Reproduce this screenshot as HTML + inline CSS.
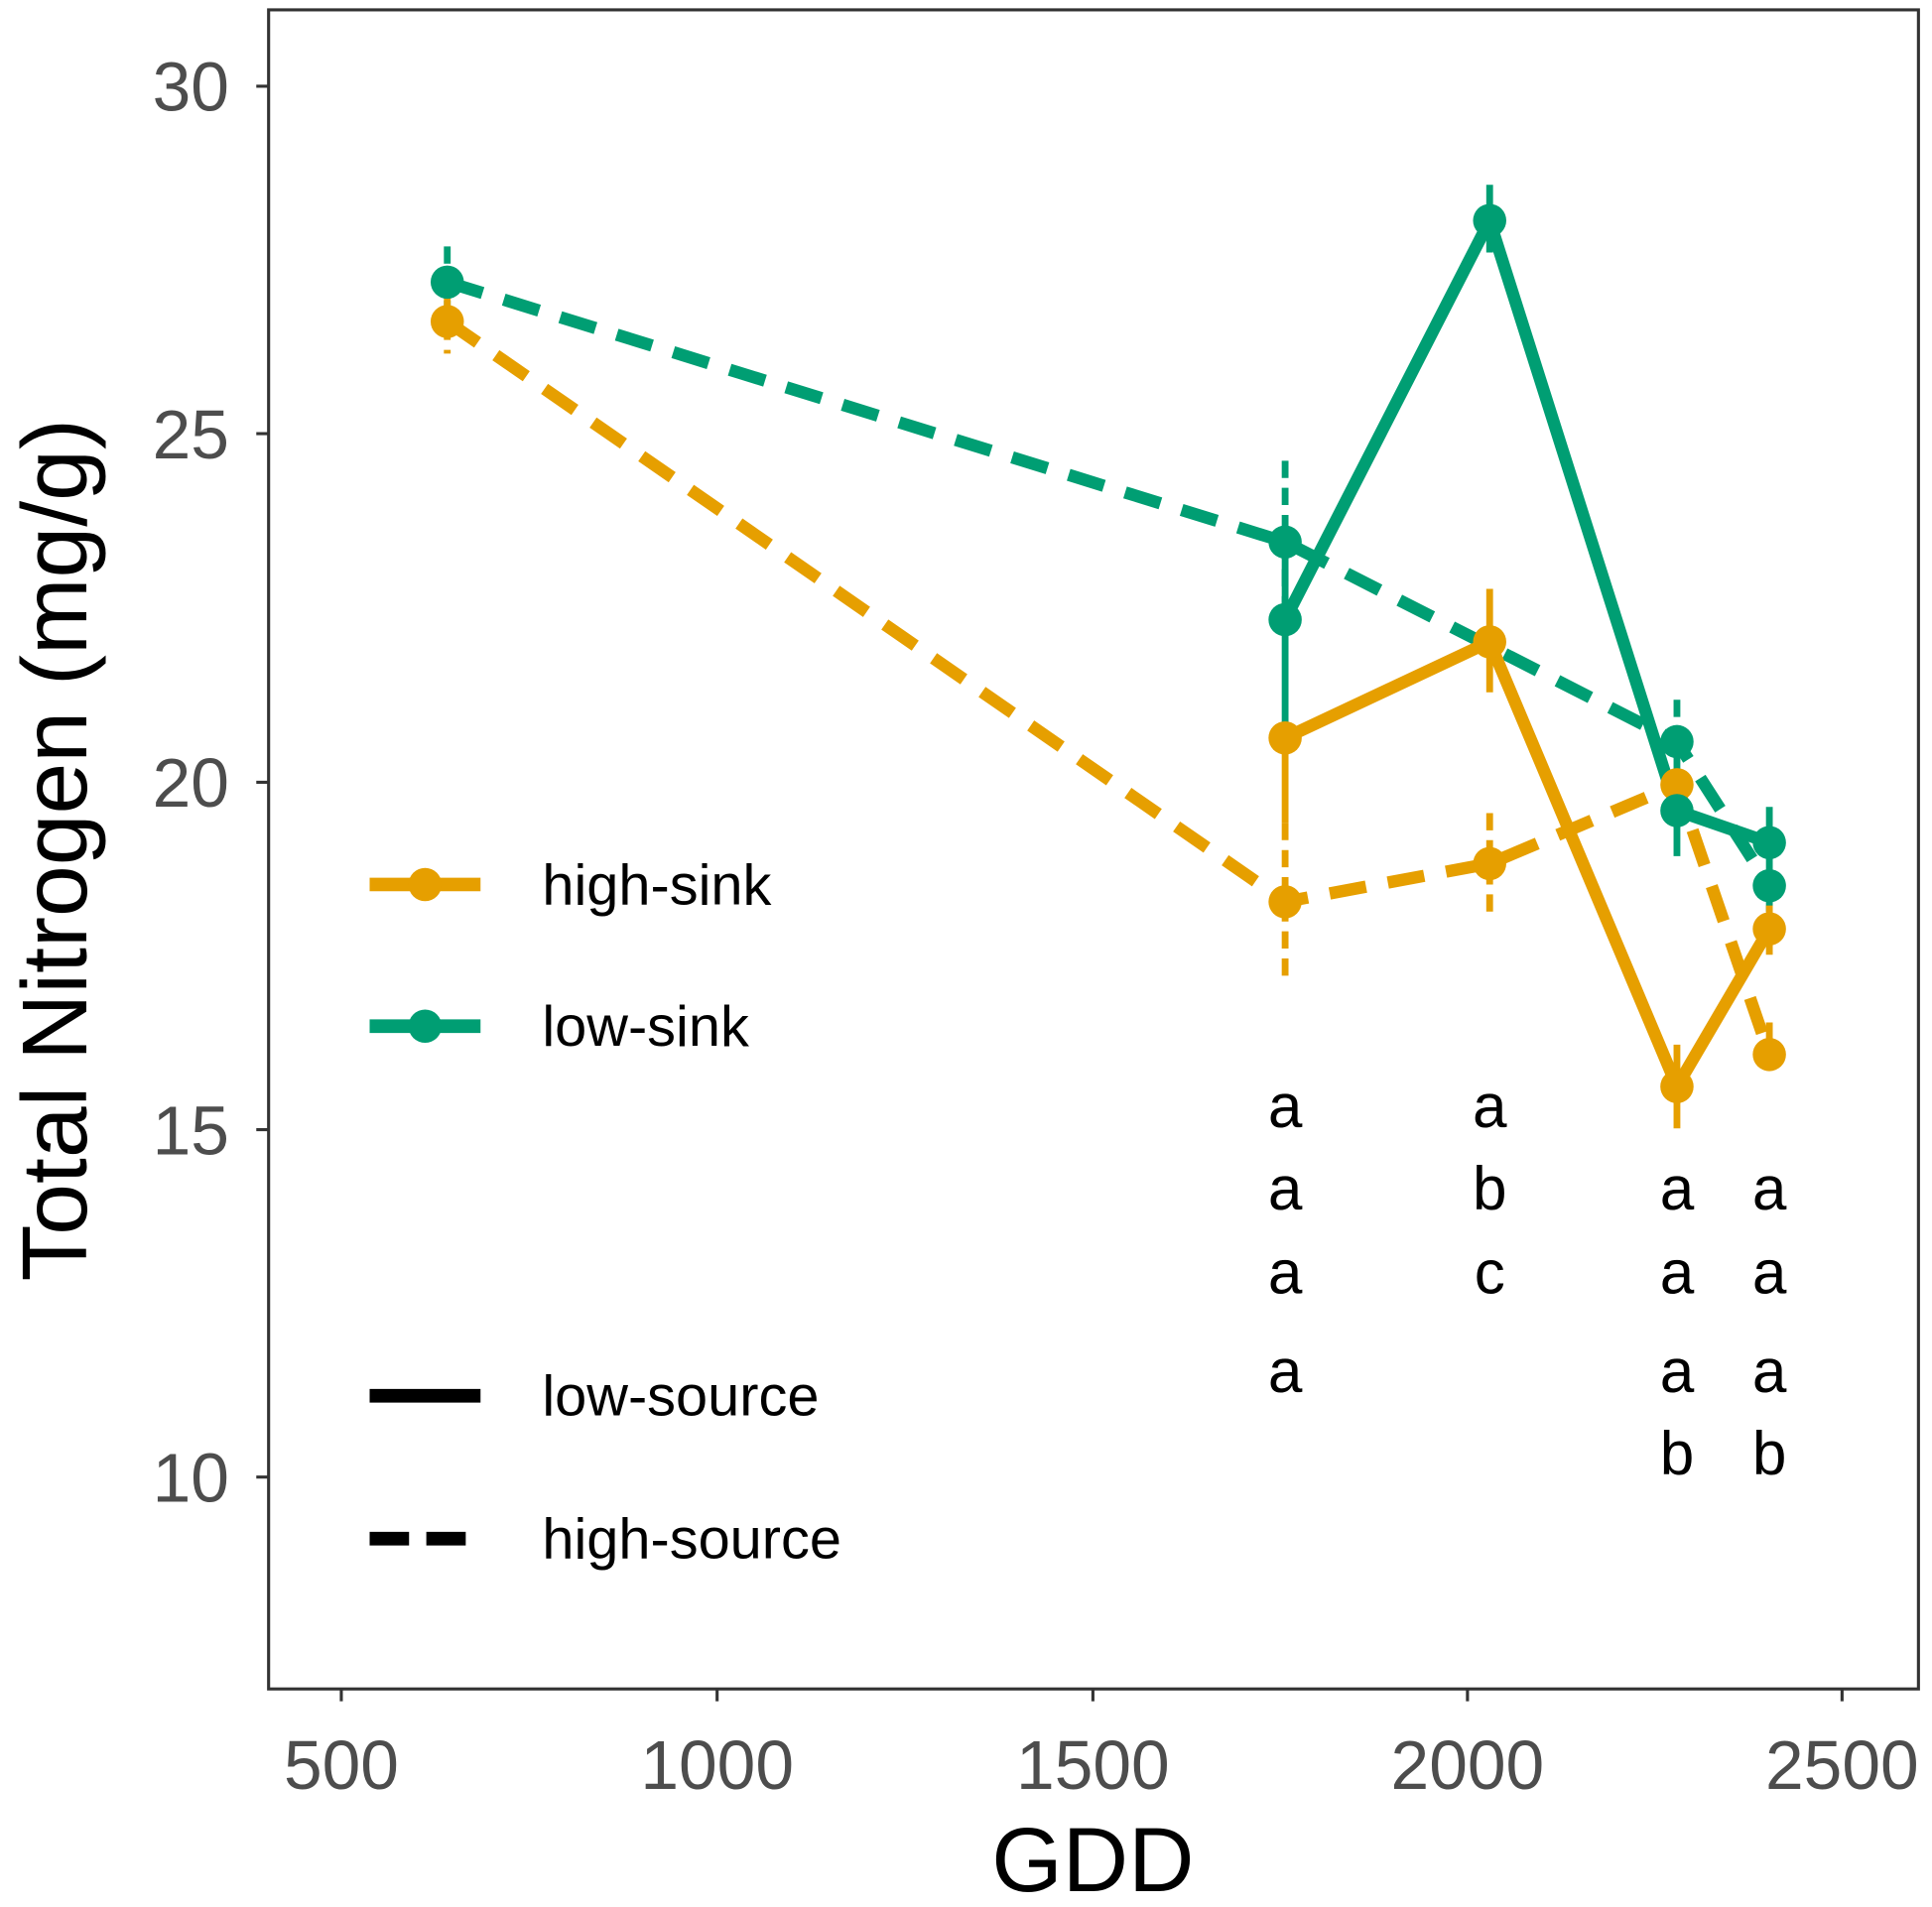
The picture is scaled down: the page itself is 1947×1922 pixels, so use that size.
<!DOCTYPE html>
<html><head><meta charset="utf-8"><style>html,body{margin:0;padding:0;background:#fff}svg{display:block}</style></head>
<body>
<svg width="1947" height="1922" viewBox="0 0 1568 1548" preserveAspectRatio="none" xmlns="http://www.w3.org/2000/svg" font-family="Liberation Sans, Arial, sans-serif">
<rect x="0" y="0" width="1568" height="1548" fill="#fff"/>
<rect x="218" y="8" width="1339" height="1363" fill="none" stroke="#333" stroke-width="2.5"/>
<g stroke="#333" stroke-width="2.5">
<line x1="208" y1="70" x2="218" y2="70"/><line x1="208" y1="352" x2="218" y2="352"/><line x1="208" y1="635" x2="218" y2="635"/><line x1="208" y1="917" x2="218" y2="917"/><line x1="208" y1="1199" x2="218" y2="1199"/>
<line x1="277" y1="1371" x2="277" y2="1381"/><line x1="582" y1="1371" x2="582" y2="1381"/><line x1="887" y1="1371" x2="887" y2="1381"/><line x1="1191" y1="1371" x2="1191" y2="1381"/><line x1="1495" y1="1371" x2="1495" y2="1381"/>
</g>
<g fill="#4d4d4d" font-size="56" text-anchor="end">
<text x="186" y="90">30</text><text x="186" y="372">25</text><text x="186" y="655">20</text><text x="186" y="937">15</text><text x="186" y="1219">10</text>
</g>
<g fill="#4d4d4d" font-size="56" text-anchor="middle">
<text x="277" y="1452">500</text><text x="582" y="1452">1000</text><text x="887" y="1452">1500</text><text x="1191" y="1452">2000</text><text x="1495" y="1452">2500</text>
</g>
<text x="887" y="1535" font-size="74" text-anchor="middle" fill="#000">GDD</text>
<text transform="translate(70,690) rotate(-90)" font-size="75" text-anchor="middle" fill="#000">Total Nitrogen (mg/g)</text>

<g stroke-width="5.5">
<line x1="363" y1="200" x2="363" y2="258" stroke="#009E73" stroke-dasharray="14,8"/>
<line x1="363" y1="240" x2="363" y2="287" stroke="#E69F00" stroke-dasharray="14,8"/>
<line x1="1043" y1="374" x2="1043" y2="505" stroke="#009E73" stroke-dasharray="14,8"/>
<line x1="1043" y1="440" x2="1043" y2="600" stroke="#009E73"/>
<line x1="1043" y1="600" x2="1043" y2="668" stroke="#E69F00"/>
<line x1="1043" y1="668" x2="1043" y2="797" stroke="#E69F00" stroke-dasharray="14,8"/>
<line x1="1209" y1="150" x2="1209" y2="205" stroke="#009E73"/>
<line x1="1209" y1="478" x2="1209" y2="562" stroke="#E69F00"/>
<line x1="1209" y1="660" x2="1209" y2="742" stroke="#E69F00" stroke-dasharray="14,8"/>
<line x1="1361" y1="568" x2="1361" y2="637" stroke="#009E73" stroke-dasharray="14,8"/>
<line x1="1361" y1="625" x2="1361" y2="695" stroke="#009E73"/>
<line x1="1361" y1="848" x2="1361" y2="916" stroke="#E69F00"/>
<line x1="1436" y1="655" x2="1436" y2="740" stroke="#009E73"/>
<line x1="1436" y1="735" x2="1436" y2="775" stroke="#E69F00"/>
<line x1="1436" y1="830" x2="1436" y2="860" stroke="#E69F00" stroke-dasharray="14,8"/>
</g>
<g fill="none" stroke-width="10" stroke-linejoin="round">
<polyline points="363,261 1043,732 1209,701 1361,637 1436,856" stroke="#E69F00" stroke-dasharray="30,18"/>
<polyline points="363,229 1043,440 1361,602 1436,719" stroke="#009E73" stroke-dasharray="30,18"/>
<polyline points="1043,599 1209,521 1361,882 1436,754" stroke="#E69F00"/>
<polyline points="1043,503 1209,179 1361,658 1436,684" stroke="#009E73"/>
</g>
<g fill="#E69F00">
<circle cx="363" cy="261" r="13.5"/><circle cx="1043" cy="732" r="13.5"/><circle cx="1209" cy="701" r="13.5"/><circle cx="1361" cy="637" r="13.5"/><circle cx="1436" cy="856" r="13.5"/>
<circle cx="1043" cy="599" r="13.5"/><circle cx="1209" cy="521" r="13.5"/><circle cx="1361" cy="882" r="13.5"/><circle cx="1436" cy="754" r="13.5"/>
</g>
<g fill="#009E73">
<circle cx="363" cy="229" r="13.5"/><circle cx="1043" cy="440" r="13.5"/><circle cx="1361" cy="602" r="13.5"/><circle cx="1436" cy="719" r="13.5"/>
<circle cx="1043" cy="503" r="13.5"/><circle cx="1209" cy="179" r="13.5"/><circle cx="1361" cy="658" r="13.5"/><circle cx="1436" cy="684" r="13.5"/>
</g>
<g font-size="50" fill="#000" text-anchor="middle">
<text x="1043" y="915">a</text><text x="1043" y="982">a</text><text x="1043" y="1050">a</text><text x="1043" y="1130">a</text>
<text x="1209" y="915">a</text><text x="1209" y="982">b</text><text x="1209" y="1050">c</text>
<text x="1361" y="982">a</text><text x="1361" y="1050">a</text><text x="1361" y="1130">a</text><text x="1361" y="1197">b</text>
<text x="1436" y="982">a</text><text x="1436" y="1050">a</text><text x="1436" y="1130">a</text><text x="1436" y="1197">b</text>
</g>
<line x1="300" y1="718" x2="390" y2="718" stroke="#E69F00" stroke-width="11"/><circle cx="345" cy="718" r="13.5" fill="#E69F00"/>
<line x1="300" y1="833" x2="390" y2="833" stroke="#009E73" stroke-width="11"/><circle cx="345" cy="833" r="13.5" fill="#009E73"/>
<line x1="300" y1="1133" x2="390" y2="1133" stroke="#000" stroke-width="11"/>
<line x1="300" y1="1249" x2="390" y2="1249" stroke="#000" stroke-width="11" stroke-dasharray="32,14"/>
<g font-size="46.5" fill="#000">
<text x="440" y="734">high-sink</text>
<text x="440" y="849">low-sink</text>
<text x="440" y="1149">low-source</text>
<text x="440" y="1265">high-source</text>
</g>
</svg>
</body></html>
